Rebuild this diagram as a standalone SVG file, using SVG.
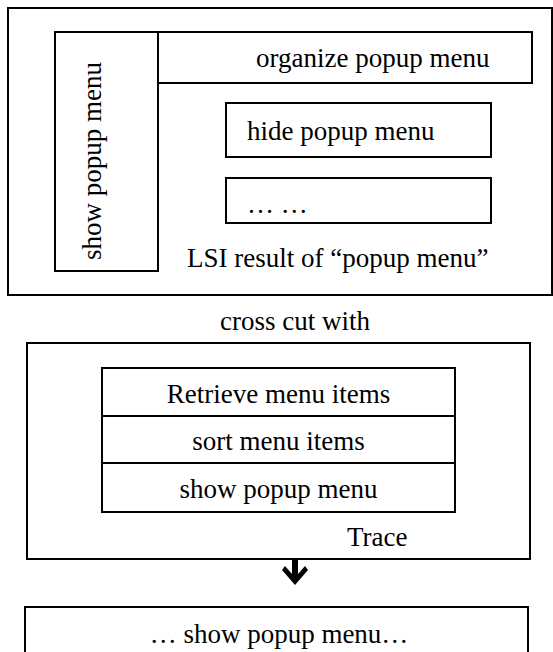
<svg xmlns="http://www.w3.org/2000/svg" width="553" height="652" viewBox="0 0 553 652">
<style>
.b{fill:none;stroke:#000;stroke-width:2}
.t{font-family:"Liberation Serif","Times New Roman",serif;font-size:27px;fill:#000}
.m{text-anchor:middle}
</style>
<rect width="553" height="652" fill="#fff"/>
<g id="lsi">
<rect class="b" x="8" y="8" width="544" height="287"/>
<text class="t" x="187" y="267">LSI result of “popup menu”</text>
</g>
<g id="show-vertical">
<rect class="b" x="55" y="32" width="103" height="239"/>
<text class="t m" transform="translate(101,161) rotate(-90)">show popup menu</text>
</g>
<g id="organize">
<rect class="b" x="158" y="32" width="374" height="51"/>
<text class="t" x="256" y="67">organize popup menu</text>
</g>
<g id="hide">
<rect class="b" x="226" y="103" width="265" height="54"/>
<text class="t" x="247" y="140">hide popup menu</text>
</g>
<g id="dots">
<rect class="b" x="226" y="178" width="265" height="45"/>
<text class="t" x="247" y="213">… …</text>
</g>
<g id="crosscut">
<text class="t m" x="295" y="330">cross cut with</text>
</g>
<g id="trace">
<rect class="b" x="27" y="343" width="503" height="216"/>
<text class="t" x="347" y="546">Trace</text>
</g>
<g id="retrieve">
<rect class="b" x="102" y="368" width="353" height="48"/>
<text class="t m" x="278.5" y="403">Retrieve menu items</text>
</g>
<g id="sort">
<rect class="b" x="102" y="416" width="353" height="47"/>
<text class="t m" x="278.5" y="450">sort menu items</text>
</g>
<g id="showpopup">
<rect class="b" x="102" y="463" width="353" height="49"/>
<text class="t m" x="278.5" y="498">show popup menu</text>
</g>
<g id="result">
<rect class="b" x="25" y="607" width="503" height="60"/>
<text class="t m" x="279" y="643">… show popup menu…</text>
</g>
<g id="connectors">
<path d="M292 559 L298 559 L298 574 L305 566 L308 570 L295 585 L282 570 L285 566 L292 574 Z" fill="#000"/>
</g>
</svg>
